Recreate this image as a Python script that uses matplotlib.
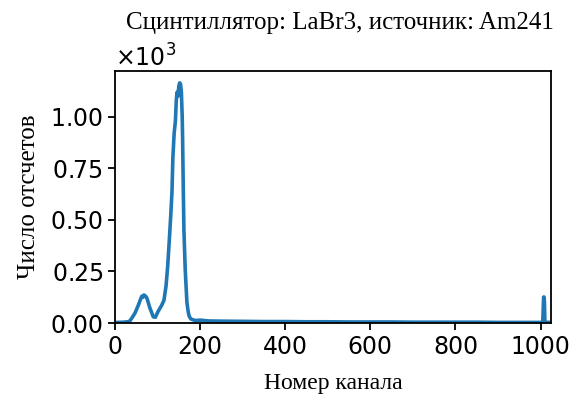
import numpy as np
import matplotlib
matplotlib.use("Agg")
import matplotlib.pyplot as plt
from matplotlib.ticker import MultipleLocator

# спектр (канал -> число отсчетов)
channels = [0, 10, 20, 30, 35, 40, 47, 55, 60, 63, 66, 68, 72, 75, 82, 90, 95,
            101, 110, 115, 120, 124, 127, 131, 134, 136, 139, 142, 144, 146,
            148, 150, 152, 154, 156, 158, 159, 160, 162, 165, 167, 169, 172,
            174, 178, 184, 190, 200, 220, 250, 300, 350, 400, 450, 500, 550,
            600, 650, 700, 750, 800, 850, 900, 950, 1000, 1005, 1006, 1007,
            1008, 1009, 1010, 1023]
counts = [3, 3, 4, 6, 10, 25, 48, 87, 115, 130, 125, 136, 130, 121, 73, 30, 28,
          55, 87, 110, 180, 280, 380, 520, 640, 800, 920, 980, 1080, 1120,
          1100, 1150, 1165, 1160, 1120, 1000, 880, 720, 450, 260, 180, 100, 55,
          35, 20, 15, 12, 14, 10, 9, 8, 7, 7, 6, 6, 5,
          5, 5, 4, 4, 4, 4, 3, 3, 3, 3, 60, 126,
          126, 100, 4, 3]

serif = "Liberation Serif"

fig = plt.figure(figsize=(5.72, 4.03), dpi=100)
ax = fig.add_axes([0.201, 0.1985, 0.762, 0.6255])
ax.plot(channels, counts, color="#1f77b4", linewidth=2.6)
ax.set_xlim(0, 1024)
ax.set_ylim(bottom=0)
ax.yaxis.set_major_locator(MultipleLocator(250))
ax.ticklabel_format(axis="y", style="sci", scilimits=(0, 0), useMathText=True)
ax.tick_params(labelsize=17, width=1.3, length=5)
for s in ax.spines.values():
    s.set_linewidth(1.3)
ax.yaxis.get_offset_text().set_fontsize(17)
ax.set_title("Сцинтиллятор: LaBr3, источник: Am241", family=serif, fontsize=18,
             pad=30, x=0.516)
ax.set_xlabel("Номер канала", family=serif, fontsize=17, labelpad=10)
ax.set_ylabel("Число отсчетов", family=serif, fontsize=18, labelpad=7)

fig.savefig("out.png", dpi=100)
